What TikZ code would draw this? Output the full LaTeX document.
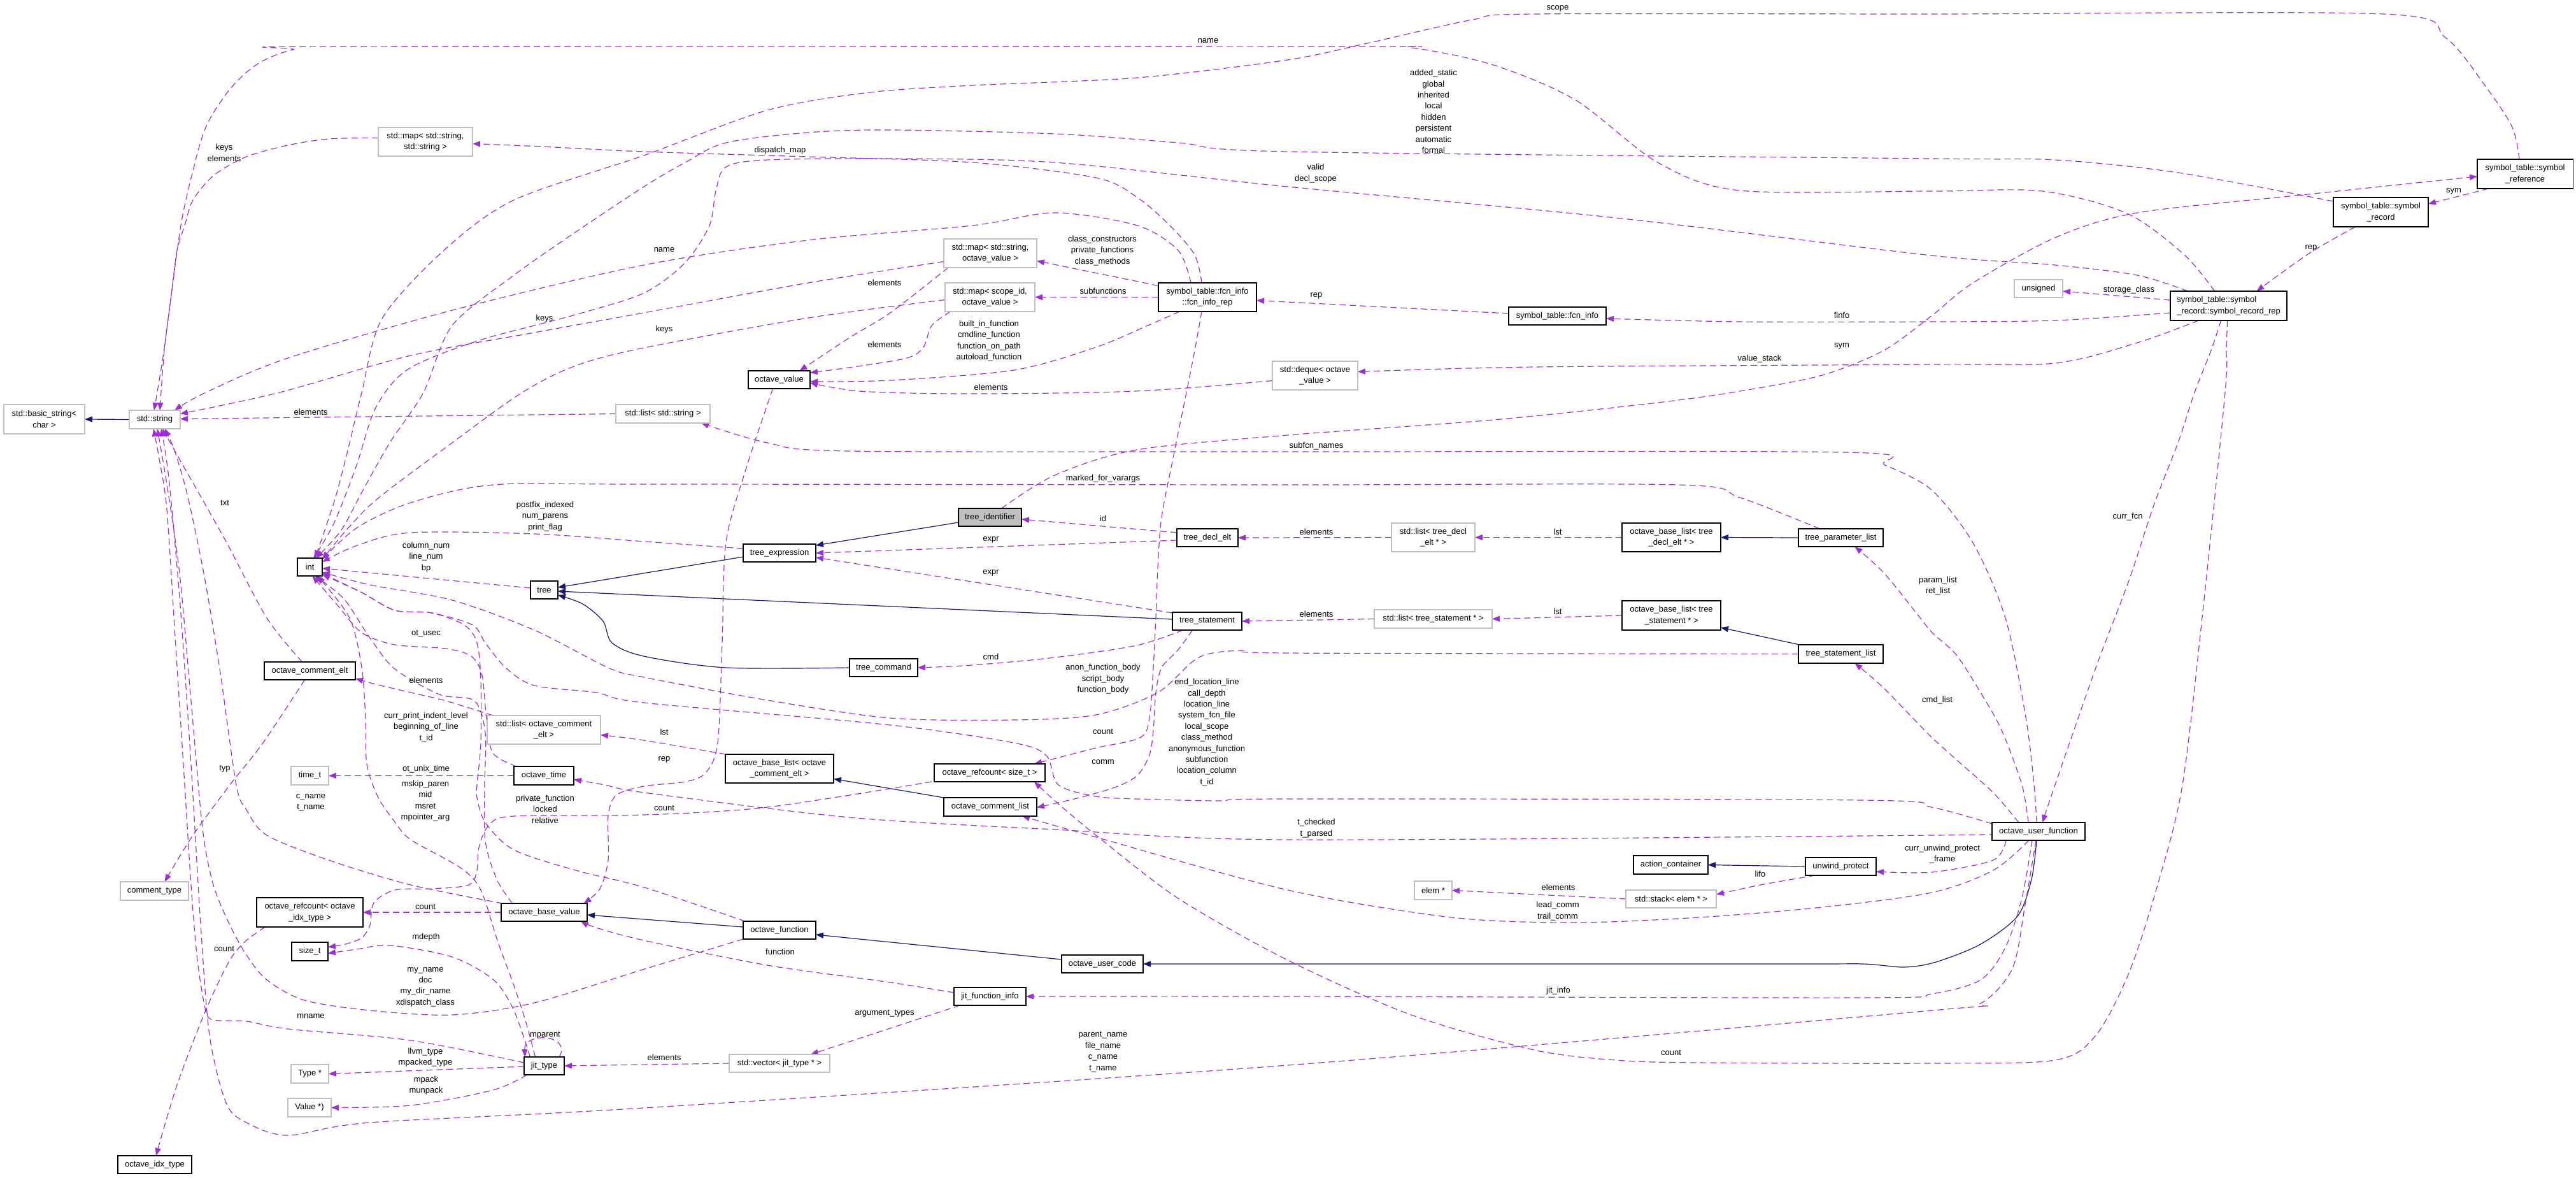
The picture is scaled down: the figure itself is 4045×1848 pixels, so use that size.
\documentclass[tikz,border=0pt]{standalone}
\usepackage{fontspec}
\setmainfont{Liberation Sans}
\usetikzlibrary{arrows.meta,backgrounds}
\definecolor{dpurple}{HTML}{9A32CD}
\definecolor{dnavy}{HTML}{191970}
\definecolor{gsevenfive}{HTML}{BFBFBF}
\newcommand\nfont{\fontsize{13pt}{17.4pt}\selectfont}
\begin{document}
\begin{tikzpicture}[x=1pt,y=-1pt,
 cls/.style={draw=black,line width=1.1pt,fill=white,inner sep=0pt,outer sep=0pt,font=\nfont,align=center},
 ext/.style={cls,draw=gsevenfive},
 root/.style={cls,fill=gsevenfive},
 lbl/.style={inner sep=0pt,outer sep=0pt,font=\nfont,align=center},
 dep/.style={draw=dpurple,line width=1.2pt,dash pattern=on 10pt off 6pt,-{Triangle[length=12pt,width=9pt]}},
 inh/.style={draw=dnavy,line width=1.2pt,-{Triangle[length=12pt,width=9pt]}}]
\useasboundingbox (0,0) rectangle (4045,1848);
% ---------- nodes ----------
\node[ext, minimum width=127pt, minimum height=46pt] (bstr) at (69.5,658) {std::basic\_string<\\char >};
\node[ext, minimum width=80pt, minimum height=29pt] (str) at (243,658.5) {std::string};
\node[ext, minimum width=148pt, minimum height=45pt] (mapSS) at (668,222.5) {std::map< std::string,\\std::string >};
\node[ext, minimum width=146pt, minimum height=45pt] (mapSOV) at (1555,397.5) {std::map< std::string,\\octave\_value >};
\node[ext, minimum width=141pt, minimum height=45pt] (mapScope) at (1554.5,466.5) {std::map< scope\_id,\\octave\_value >};
\node[cls, minimum width=154pt, minimum height=45pt] (fcnrep) at (1896,466.5) {symbol\_table::fcn\_info\\::fcn\_info\_rep};
\node[cls, minimum width=97pt, minimum height=28pt] (ov) at (1223.5,596) {octave\_value};
\node[ext, minimum width=134pt, minimum height=45pt] (deque) at (2065,589.5) {std::deque< octave\\\_value >};
\node[cls, minimum width=153pt, minimum height=28pt] (fcninfo) at (2445.5,496) {symbol\_table::fcn\_info};
\node[cls, minimum width=150pt, minimum height=46pt] (symref) at (3965,273) {symbol\_table::symbol\\\_reference};
\node[cls, minimum width=149pt, minimum height=46pt] (symrec) at (3738.5,333) {symbol\_table::symbol\\\_record};
\node[cls, align=left, minimum width=183pt, minimum height=46pt] (symrep) at (3499.5,480) {symbol\_table::symbol\\\_record::symbol\_record\_rep};
\node[ext, minimum width=76pt, minimum height=28pt] (unsigned) at (3201,453) {unsigned};
\node[ext, minimum width=148pt, minimum height=29pt] (liststr) at (1041,649.5) {std::list< std::string >};
\node[cls, minimum width=39pt, minimum height=28pt] (int) at (486.5,890) {int};
\node[cls, minimum width=43pt, minimum height=28pt] (tree) at (854.5,926) {tree};
\node[cls, minimum width=143pt, minimum height=28pt] (ocelt) at (486.5,1053) {octave\_comment\_elt};
\node[ext, minimum width=178pt, minimum height=45pt] (listocelt) at (854,1145.5) {std::list< octave\_comment\\\_elt >};
\node[ext, minimum width=59pt, minimum height=29pt] (timet) at (486.5,1217.5) {time\_t};
\node[cls, minimum width=94pt, minimum height=29pt] (otime) at (854,1217.5) {octave\_time};
\node[root, minimum width=99pt, minimum height=28pt] (tid) at (1554.5,812) {tree\_identifier};
\node[cls, minimum width=114pt, minimum height=28pt] (texpr) at (1224,868) {tree\_expression};
\node[cls, minimum width=96pt, minimum height=28pt] (tdecl) at (1896,844) {tree\_decl\_elt};
\node[cls, minimum width=109pt, minimum height=28pt] (tstmt) at (1895.5,975) {tree\_statement};
\node[cls, minimum width=107pt, minimum height=28pt] (tcmd) at (1387.5,1048) {tree\_command};
\node[cls, minimum width=170pt, minimum height=45pt] (oblc) at (1224,1206.5) {octave\_base\_list< octave\\\_comment\_elt >};
\node[cls, minimum width=174pt, minimum height=28pt] (orc) at (1554,1213) {octave\_refcount< size\_t >};
\node[ext, minimum width=131pt, minimum height=45pt] (listdecl) at (2250.5,843.5) {std::list< tree\_decl\\\_elt * >};
\node[cls, minimum width=155pt, minimum height=45pt] (obldecl) at (2624.5,843.5) {octave\_base\_list< tree\\\_decl\_elt * >};
\node[cls, minimum width=133pt, minimum height=28pt] (tparam) at (2890.5,844) {tree\_parameter\_list};
\node[ext, minimum width=185pt, minimum height=29pt] (liststmt) at (2250.5,971.5) {std::list< tree\_statement * >};
\node[cls, minimum width=155pt, minimum height=46pt] (oblstmt) at (2624.5,966) {octave\_base\_list< tree\\\_statement * >};
\node[cls, minimum width=133pt, minimum height=29pt] (tstmtlist) at (2890.5,1026.5) {tree\_statement\_list};
\node[ext, minimum width=107pt, minimum height=29pt] (ctype) at (242.5,1398.5) {comment\_type};
\node[cls, minimum width=167pt, minimum height=46pt] (orcidx) at (486.5,1432) {octave\_refcount< octave\\\_idx\_type >};
\node[cls, minimum width=57pt, minimum height=29pt] (sizet) at (486.5,1493.5) {size\_t};
\node[cls, minimum width=135pt, minimum height=28pt] (obv) at (854.5,1432) {octave\_base\_value};
\node[ext, minimum width=59pt, minimum height=29pt] (Type) at (486.5,1685.5) {Type *};
\node[ext, minimum width=68pt, minimum height=29pt] (Value) at (486,1738.5) {Value *)};
\node[cls, minimum width=63pt, minimum height=28pt] (jittype) at (854.5,1673) {jit\_type};
\node[cls, minimum width=116pt, minimum height=28pt] (oidx) at (243,1828) {octave\_idx\_type};
\node[cls, minimum width=146pt, minimum height=29pt] (ocl) at (1555,1266.5) {octave\_comment\_list};
\node[cls, minimum width=114pt, minimum height=28pt] (ofn) at (1224,1460) {octave\_function};
\node[cls, minimum width=128pt, minimum height=28pt] (ouc) at (1731,1513) {octave\_user\_code};
\node[cls, minimum width=113pt, minimum height=28pt] (jfi) at (1554.5,1564) {jit\_function\_info};
\node[ext, minimum width=158pt, minimum height=28pt] (vecjt) at (1224,1669) {std::vector< jit\_type * >};
\node[cls, minimum width=117pt, minimum height=29pt] (actc) at (2623.5,1357.5) {action\_container};
\node[cls, minimum width=111pt, minimum height=28pt] (unwind) at (2890.5,1360) {unwind\_protect};
\node[ext, minimum width=59pt, minimum height=29pt] (elem) at (2250.5,1397.5) {elem *};
\node[ext, minimum width=142pt, minimum height=28pt] (stack) at (2624,1411) {std::stack< elem * >};
\node[cls, minimum width=146pt, minimum height=28pt] (ouf) at (3201,1305) {octave\_user\_function};
% ---------- labels ----------
\node[lbl] (l1) at (1897,64) {name};
\node[lbl] (l2) at (2446,13) {scope};
\node[lbl] (l3) at (2251,175) {added\_static\\global\\inherited\\local\\hidden\\persistent\\automatic\\formal};
\node[lbl] (l4) at (2066,272) {valid\\decl\_scope};
\node[lbl] (l5) at (1225,236) {dispatch\_map};
\node[lbl] (l6) at (352,240) {keys\\elements};
\node[lbl] (l7) at (1043,392) {name};
\node[lbl] (l8) at (1043,517) {keys};
\node[lbl] (l9) at (855,500) {keys};
\node[lbl] (l10) at (1731,393.5) {class\_constructors\\private\_functions\\class\_methods};
\node[lbl] (l11) at (1732,457) {subfunctions};
\node[lbl] (l12) at (1553,535) {built\_in\_function\\cmdline\_function\\function\_on\_path\\autoload\_function};
\node[lbl] (l13) at (1389,444) {elements};
\node[lbl] (l14) at (1389,541) {elements};
\node[lbl] (l15) at (1556,608) {elements};
\node[lbl] (l16) at (2067,464) {rep};
\node[lbl] (l17) at (2892,495) {finfo};
\node[lbl] (l18) at (2892,543) {sym};
\node[lbl] (l19) at (2763,563) {value\_stack};
\node[lbl] (l20) at (3853,300) {sym};
\node[lbl] (l21) at (3629,389) {rep};
\node[lbl] (l22) at (3343,455) {storage\_class};
\node[lbl] (l23) at (488,647) {elements};
\node[lbl] (l24) at (353,789) {txt};
\node[lbl] (l25) at (856,810.5) {postfix\_indexed\\num\_parens\\print\_flag};
\node[lbl] (l26) at (669,874.5) {column\_num\\line\_num\\bp};
\node[lbl] (l27) at (669,995) {ot\_usec};
\node[lbl] (l28) at (669,1068) {elements};
\node[lbl] (l29) at (669,1141.5) {curr\_print\_indent\_level\\beginning\_of\_line\\t\_id};
\node[lbl] (l30) at (353,1207) {typ};
\node[lbl] (l31) at (669,1207) {ot\_unix\_time};
\node[lbl] (l32) at (668,1257) {mskip\_paren\\mid\\msret\\mpointer\_arg};
\node[lbl] (l33) at (1732,751) {marked\_for\_varargs};
\node[lbl] (l34) at (1732,814) {id};
\node[lbl] (l35) at (1556,847) {expr};
\node[lbl] (l36) at (1556,899) {expr};
\node[lbl] (l37) at (1556,1031) {cmd};
\node[lbl] (l38) at (1732,1066) {anon\_function\_body\\script\_body\\function\_body};
\node[lbl] (l39) at (1895,1149.5) {end\_location\_line\\call\_depth\\location\_line\\system\_fcn\_file\\local\_scope\\class\_method\\anonymous\_function\\subfunction\\location\_column\\t\_id};
\node[lbl] (l40) at (1732,1148) {count};
\node[lbl] (l41) at (1732,1196) {comm};
\node[lbl] (l42) at (1043,1149) {lst};
\node[lbl] (l43) at (1043,1192) {rep};
\node[lbl] (l44) at (2067,700) {subfcn\_names};
\node[lbl] (l45) at (2067,835) {elements};
\node[lbl] (l46) at (2446,835) {lst};
\node[lbl] (l47) at (2067,964) {elements};
\node[lbl] (l48) at (2446,960) {lst};
\node[lbl] (l49) at (3043,919.5) {param\_list\\ret\_list};
\node[lbl] (l50) at (3042,1099) {cmd\_list};
\node[lbl] (l51) at (3341,811) {curr\_fcn};
\node[lbl] (l52) at (488,1260) {c\_name\\t\_name};
\node[lbl] (l53) at (856,1270) {private\_function\\locked\\relative};
\node[lbl] (l54) at (668,1423) {count};
\node[lbl] (l55) at (669,1471) {mdepth};
\node[lbl] (l56) at (352,1489) {count};
\node[lbl] (l57) at (668,1549) {my\_name\\doc\\my\_dir\_name\\xdispatch\_class};
\node[lbl] (l58) at (488,1595) {mname};
\node[lbl] (l59) at (856,1625) {mparent};
\node[lbl] (l60) at (668,1659.5) {llvm\_type\\mpacked\_type};
\node[lbl] (l61) at (669,1703.5) {mpack\\munpack};
\node[lbl] (l62) at (1043,1268.5) {count};
\node[lbl] (l63) at (1225,1494) {function};
\node[lbl] (l64) at (1389,1591) {argument\_types};
\node[lbl] (l65) at (1043,1660) {elements};
\node[lbl] (l66) at (1732,1651) {parent\_name\\file\_name\\c\_name\\t\_name};
\node[lbl] (l67) at (2067,1300) {t\_checked\\t\_parsed};
\node[lbl] (l68) at (2764,1372) {lifo};
\node[lbl] (l69) at (2447,1393) {elements};
\node[lbl] (l70) at (2446,1430) {lead\_comm\\trail\_comm};
\node[lbl] (l71) at (3050,1340.5) {curr\_unwind\_protect\\\_frame};
\node[lbl] (l72) at (2447,1555) {jit\_info};
\node[lbl] (l73) at (2624,1652) {count};
% ---------- connectors ----------
\begin{pgfonlayer}{background}
\fill[white] (0,0) rectangle (4045,1848);
% inheritance
\draw[inh] (str.west) -- (bstr.east);
\draw[inh] ([yshift=-6pt]texpr.west) -- ([yshift=4pt]tree.east);
\draw[inh] ([yshift=3pt]tstmt.west) -- ([yshift=-2pt]tree.east);
\draw[inh] plot[smooth,tension=0.5] coordinates {(tcmd.west) (1140,1048) (1011,1030) (961,1009) (947,975) (915,948) ([yshift=-8pt]tree.east)};
\draw[inh] ([yshift=-8pt]tid.west) -- ([yshift=12pt]texpr.east);
\draw[inh] (tparam.west) -- (obldecl.east);
\draw[inh] ([xshift=2pt]tstmtlist.north west) -- ([yshift=-19pt]oblstmt.east);
\draw[inh] (ocl.north west) -- ([yshift=-16pt]oblc.east);
\draw[inh] ([yshift=5pt]ofn.west) -- ([yshift=-4pt]obv.east);
\draw[inh] ([yshift=7pt]ouc.west) -- ([yshift=-7pt]ofn.east);
\draw[inh] plot[smooth,tension=0.5] coordinates {([xshift=-3pt]ouf.south) (3190,1380) (3168,1438) (3110,1482) (3040,1510) (2990,1518) (2925,1513) (2800,1513) (ouc.east)};
\draw[inh] (unwind.west) -- (actc.east);
% dependencies
\draw[dep] plot[smooth,tension=0.5] coordinates {([xshift=-22pt]symrep.north) (3430,400) (3340,335) (3207,300) (3034,300) (2732,299) (2603,255) (2474,157) (2345,102) (2216,75) (2100,73) (530,73) (460,78) (405,100) (361,140) (323,200) (300,280) (284,354) (268,470) (256,560) ([xshift=-1pt]str.north)};
\draw[dep] plot[smooth,tension=0.5] coordinates {([xshift=-9pt]symref.north) (3945,200) (3904,137) (3840,59) (3743,22) (3033,22) (2409,22) (2312,31) (2151,67) (2022,94) (1786,122) (1527,134) (1366,145) (1205,173) (1011,244) (807,314) (697,393) (600,500) (568,616) (549,695) (529,773) (510,832) ([xshift=8pt]int.north)};
\draw[dep] plot[smooth,tension=0.5] coordinates {([yshift=17pt]symrec.west) (3420,271) (3227,251) (3033,249) (2022,238) (1850,224) (1656,210) (1398,204) (1269,208) (1140,224) (1076,255) (1011,293) (891,373) (807,432) (710,511) (665,616) (612,695) (568,773) (536,832) ([xshift=10pt]int.north)};
\draw[dep] plot[smooth,tension=0.5] coordinates {([xshift=-64pt]symrep.north) (3356,432) (3227,416) (3033,401) (2538,342) (2022,293) (1656,255) (1398,249) (1205,251) (1140,262) (1124,300) (1114,354) (1076,412) (1011,460) (900,495) (750,535) (640,580) (590,640) (560,730) (525,820) ([xshift=6pt]int.north)};
\draw[dep] plot[smooth,tension=0.5] coordinates {([xshift=-9pt]fcnrep.north) (1876,400) (1837,354) (1786,310) (1721,279) (1527,255) (1269,246) (1011,238) (850,230) ([yshift=-3pt]mapSS.east)};
\draw[dep] plot[smooth,tension=0.5] coordinates {([yshift=6pt]mapSS.west) (516,218) (452,228) (387,246) (336,275) (303,314) (290,354) (278,393) (268,471) (258,550) ([xshift=8pt]str.north)};
\draw[dep] plot[smooth,tension=0.5] coordinates {([xshift=-26pt]fcnrep.north) (1850,393) (1786,354) (1656,334) (1527,354) (1269,377) (1011,416) (710,487) (452,562) (323,616) ([xshift=-9pt]str.north east)};
\draw[dep] plot[smooth,tension=0.5] coordinates {([yshift=-13pt]mapSOV.west) (1269,444) (1011,491) (839,522) (645,558) (439,616) ([yshift=9pt]str.east)};
\draw[dep] plot[smooth,tension=0.5] coordinates {([yshift=-4pt]mapScope.west) (1269,499) (1011,546) (904,574) (820,616) (710,695) (581,793) ([yshift=12pt]int.east)};
\draw[dep] ([yshift=18pt]fcnrep.west) -- ([yshift=-12pt]mapSOV.east);
\draw[dep] (fcnrep.west) -- (mapScope.east);
\draw[dep] plot[smooth,tension=0.5] coordinates {([xshift=-44pt]fcnrep.south) (1800,512) (1721,545) (1592,581) (1398,597) ([yshift=-3pt]ov.east)};
\draw[dep] plot[smooth,tension=0.5] coordinates {([xshift=-66pt]mapSOV.south) (1398,491) (1334,530) ([xshift=32pt]ov.north)};
\draw[dep] plot[smooth,tension=0.5] coordinates {([xshift=-62pt]mapScope.south) (1463,511) (1450,545) (1424,562) (1340,576) ([yshift=11pt]ov.east)};
\draw[dep] plot[smooth,tension=0.5] coordinates {([yshift=-8pt]deque.west) (1850,610) (1721,616) (1500,618) (1350,614) ([yshift=-5pt]ov.east)};
\draw[dep] ([yshift=4pt]fcninfo.west) -- ([yshift=-5pt]fcnrep.east);
\draw[dep] plot[smooth,tension=0.5] coordinates {([yshift=-11pt]symrep.west) (3227,503) (3033,505) (2732,505) ([yshift=-4pt]fcninfo.east)};
\draw[dep] plot[smooth,tension=0.5] coordinates {([xshift=18pt]tid.north) (1656,746) (1785,706) (2022,683) (2345,659) (2603,632) (2732,614) (2861,589) (2958,550) (3034,495) (3098,444) (3227,373) (3356,334) (3614,306) ([yshift=-4pt]symref.west)};
\draw[dep] plot[smooth,tension=0.5] coordinates {([xshift=-47pt]symrep.south) (3356,538) (3227,570) (3033,572) (2409,576) ([yshift=6pt]deque.east)};
\draw[dep] ([xshift=-57pt]symref.south) -- ([yshift=13pt]symrec.east);
\draw[dep] plot[smooth,tension=0.5] coordinates {([xshift=-40pt]symrec.south) (3627,397) ([xshift=44pt]symrep.north)};
\draw[dep] ([yshift=9pt]symrep.west) -- ([yshift=-4pt]unsigned.east);
\draw[dep] plot[smooth,tension=0.5] coordinates {([xshift=-12pt]symrep.south) (3472,550) (3446,616) (3420,695) (3382,793) (3343,911) (3291,1048) (3227,1232) ([xshift=6pt]ouf.north)};
\draw[dep] plot[smooth,tension=0.5] coordinates {([xshift=-2pt]symrep.south) (3496,550) (3494,616) (3460,950) (3427,1232) (3388,1389) (3343,1527) (3291,1625) (3227,1664) (3033,1669) (2667,1668) (2538,1664) (2409,1648) (2216,1593) (2022,1507) (1850,1410) (1721,1311) (1660,1260) ([xshift=70pt]orc.south)};
\draw[dep] plot[smooth,tension=0.5] coordinates {([xshift=-9pt]fcnrep.south) (1876,550) (1863,616) (1843,714) (1824,812) (1818,891) (1815,969) (1811,1048) (1805,1127) (1790,1158) (1721,1174) ([xshift=70pt]orc.north)};
\draw[dep] plot[smooth,tension=0.5] coordinates {([xshift=-23pt]tstmt.south) (1850,1020) (1824,1048) (1815,1087) (1811,1146) (1805,1185) (1786,1217) (1753,1235) (1695,1252) ([yshift=-1pt]ocl.east)};
\draw[dep] plot[smooth,tension=0.5] coordinates {(tstmtlist.west) (2022,1025) (1947,1021) (1882,1032) (1818,1087) (1721,1122) (1592,1130) (1398,1127) (1205,1099) (1011,1063) (955,1048) (839,989) (710,942) (581,918) ([yshift=-8pt]int.east)};
\draw[dep] plot[smooth,tension=0.5] coordinates {([xshift=-33pt]tparam.north) (2732,781) (2635,761) (2022,761) (1012,760) (775,761) (645,789) (561,828) ([yshift=12pt]int.east)};
\draw[dep] plot[smooth,tension=0.5] coordinates {([yshift=7pt]texpr.west) (1012,850) (839,838) (645,836) (561,856) ([yshift=8pt]int.east)};
\draw[dep] ([yshift=3pt]tree.west) -- ([yshift=-2pt]int.east);
\draw[dep] plot[smooth,tension=0.5] coordinates {([xshift=-3pt]ouf.north) (3194,1232) (3181,1126) (3149,970) (3098,852) (3033,769) (2960,730) (2900,710) (2022,709) (1334,708) (1205,695) ([xshift=60pt]liststr.south)};
\draw[dep] plot[smooth,tension=0.5] coordinates {([xshift=-16pt]ouf.north) (3175,1232) (3143,1146) (3110,1087) (3072,1028) (3034,993) (3009,962) (2958,899) ([xshift=22pt]tparam.south)};
\draw[dep] plot[smooth,tension=0.5] coordinates {([xshift=-31pt]ouf.north) (3140,1255) (3117,1232) (3034,1158) (2958,1080) ([xshift=22pt]tstmtlist.south)};
\draw[dep] plot[smooth,tension=0.5] coordinates {([yshift=12pt]ouf.west) (3033,1267) (2925,1256) (2022,1254) (1915,1257) (1785,1254) (1721,1250) (1662,1232) (1643,1186) (1592,1166) (1398,1138) (1011,1103) (936,1087) (839,1076) (794,1048) (762,1009) (742,981) (678,962) (620,958) (568,930) ([yshift=-12pt]int.east)};
\draw[dep] plot[smooth,tension=0.5] coordinates {([yshift=-4pt]ouf.west) (3034,1311) (2022,1318) (1656,1302) (1334,1283) (1011,1244) (950,1232) ([yshift=-6pt]otime.east)};
\draw[dep] plot[smooth,tension=0.5] coordinates {([xshift=-51pt]ouf.south) (3130,1350) (3034,1369) ([yshift=-8pt]unwind.east)};
\draw[dep] plot[smooth,tension=0.5] coordinates {([xshift=-15pt]ouf.south) (3130,1366) (3033,1401) (2861,1424) (2667,1440) (2474,1448) (2280,1440) (2022,1397) (1721,1314) ([xshift=50pt]ocl.south)};
\draw[dep] plot[smooth,tension=0.5] coordinates {([xshift=-10pt]ouf.south) (3175,1409) (3149,1487) (3110,1538) (3033,1560) (2925,1566) (2022,1564) (jfi.east)};
\draw[dep] plot[smooth,tension=0.5] coordinates {([xshift=-4pt]ouf.south) (3180,1420) (3160,1520) (3110,1575) (3034,1586) (2022,1672) (1011,1739) (581,1762) (452,1782) (387,1762) (355,1731) (329,1625) (315,1450) (300,1200) (283,950) (265,750) ([xshift=10pt]str.south)};
\draw[dep] ([yshift=8pt]tdecl.west) -- ([yshift=-3pt]tid.east);
\draw[dep] ([yshift=-4pt]tdecl.west) -- (texpr.east);
\draw[dep] ([yshift=13pt]tstmt.west) -- ([yshift=-7pt]texpr.east);
\draw[dep] plot[smooth,tension=0.5] coordinates {([xshift=-38pt]tstmt.south) (1785,1013) (1656,1032) (1527,1044) (tcmd.east)};
\draw[dep] (liststmt.west) -- (tstmt.east);
\draw[dep] (listdecl.west) -- (tdecl.east);
\draw[dep] (obldecl.west) -- (listdecl.east);
\draw[dep] (oblstmt.west) -- (liststmt.east);
\draw[dep] plot[smooth,tension=0.5] coordinates {([xshift=-40pt]unwind.south) (2764,1389) ([yshift=7pt]stack.east)};
\draw[dep] (stack.west) -- (elem.east);
\draw[dep] ([xshift=-47pt]jfi.south) -- ([xshift=49pt]vecjt.north);
\draw[dep] (vecjt.west) -- (jittype.east);
\draw[dep] ([yshift=-1pt]jittype.west) -- (Type.east);
\draw[dep] plot[smooth,tension=0.5] coordinates {([xshift=-27pt]jittype.south) (774,1711) (645,1735) (Value.east)};
\draw[dep] ([xshift=24pt]jittype.north) .. controls (898,1622) and (822,1620) .. ([xshift=-30pt]jittype.north);
\draw[dep] plot[smooth,tension=0.5] coordinates {([xshift=-22pt]jittype.north) (807,1586) (775,1538) (710,1502) (613,1484) (560,1490) ([yshift=-3pt]sizet.east)};
\draw[dep] plot[smooth,tension=0.5] coordinates {([xshift=-14pt]jittype.north) (826,1605) (807,1547) (781,1476) (755,1397) (723,1362) (645,1318) (620,1290) (594,1252) (576,1200) (574,1127) (568,1048) (549,970) ([xshift=12pt]int.south)};
\draw[dep] plot[smooth,tension=0.5] coordinates {([xshift=-4pt]orc.south west) (1205,1267) (1011,1279) (807,1281) (768,1295) (752,1330) (749,1366) (736,1389) (678,1395) (620,1397) (587,1417) (581,1452) (568,1472) (542,1482) ([yshift=7pt]sizet.east)};
\draw[dep] plot[smooth,tension=0.5] coordinates {([xshift=-10pt]ov.south) (1172,734) (1140,851) (1134,1009) (1127,1166) (1108,1213) (1076,1227) (1011,1234) (968,1248) (955,1280) (955,1350) (942,1395) ([xshift=62pt]obv.north)};
\draw[dep] (obv.west) -- (orcidx.east);
\draw[dep] plot[smooth,tension=0.5] coordinates {([xshift=-70pt]orcidx.south) (387,1476) (361,1507) (323,1586) (278,1703) ([xshift=2pt]oidx.north)};
\draw[dep] plot[smooth,tension=0.5] coordinates {([xshift=-65pt]obv.north) (645,1389) (516,1350) (419,1311) (387,1271) (371,1232) (345,1050) (320,900) (295,780) (275,710) ([xshift=16pt]str.south)};
\draw[dep] plot[smooth,tension=0.5] coordinates {(ofn.south west) (1012,1521) (839,1574) (710,1593) (581,1586) (478,1570) (419,1538) (387,1499) (361,1452) (335,1389) (318,1300) (300,1100) (282,900) (262,760) ([xshift=4pt]str.south)};
\draw[dep] plot[smooth,tension=0.5] coordinates {([yshift=5pt]jittype.west) (645,1633) (452,1615) (387,1603) (336,1601) (323,1586) (310,1507) (300,1389) (288,1200) (275,1000) (262,800) (250,720) ([xshift=-2pt]str.south)};
\draw[dep] plot[smooth,tension=0.5] coordinates {([xshift=-12pt]ocelt.north) (419,970) (355,850) (290,735) ([xshift=12pt]str.south)};
\draw[dep] plot[smooth,tension=0.5] coordinates {([xshift=-8pt]ocelt.south) (413,1166) (361,1232) (303,1311) ([xshift=16pt]ctype.north)};
\draw[dep] plot[smooth,tension=0.5] coordinates {([xshift=9pt]listocelt.north west) (700,1100) (645,1087) (590,1074) ([yshift=-12pt]ocelt.east)};
\draw[dep] plot[smooth,tension=0.5] coordinates {([xshift=1pt]oblc.north west) (1011,1162) ([yshift=-8pt]listocelt.east)};
\draw[dep] (otime.west) -- (timet.east);
\draw[dep] plot[smooth,tension=0.5] coordinates {([xshift=4pt]otime.north west) (774,1182) (764,1130) (757,1060) (740,1030) (700,1018) (620,1012) (568,993) (530,950) ([xshift=4pt]int.south)};
\draw[dep] plot[smooth,tension=0.5] coordinates {([xshift=-50pt]obv.north) (780,1380) (762,1320) (761,1232) (762,1150) (745,1100) (690,1090) (620,1050) (580,1000) (540,940) ([xshift=8pt]int.south)};
\draw[dep] plot[smooth,tension=0.5] coordinates {([xshift=3pt]ofn.north west) (1012,1393) (904,1366) (807,1334) (762,1291) (749,1252) (749,1232) (755,1166) (755,1068) (749,1009) (729,981) (678,962) (620,958) (568,930) ([yshift=-10pt]int.east)};
\draw[dep] plot[smooth,tension=0.5] coordinates {([yshift=6pt]jfi.west) (1398,1542) (1205,1515) (1011,1476) (936,1456) ([xshift=-10pt]obv.south east)};
\draw[dep] (liststr.west) -- ([yshift=1pt]str.east);
\end{pgfonlayer}
\end{tikzpicture}
\end{document}
